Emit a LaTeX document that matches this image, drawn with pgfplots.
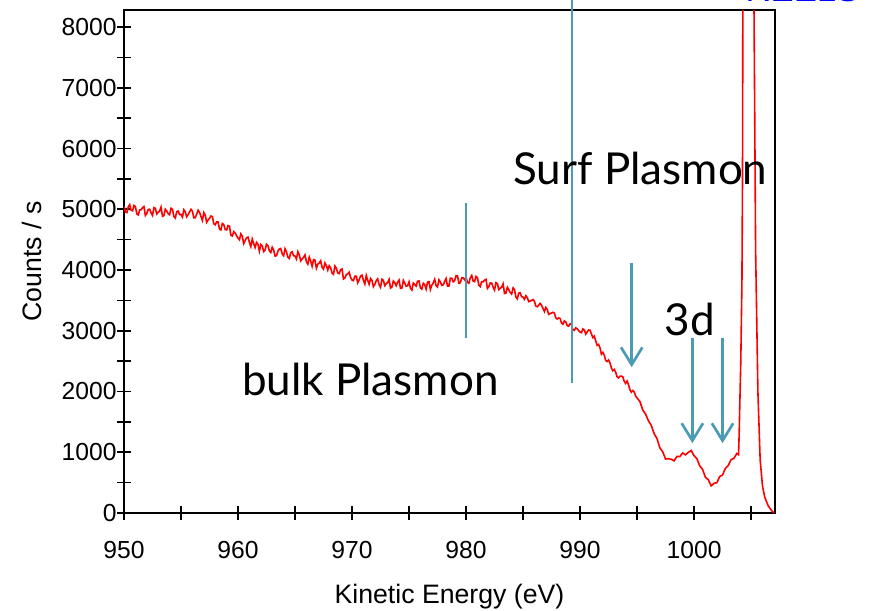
\documentclass[border=0pt]{standalone}
\usepackage{pgfplots}
\pgfplotsset{compat=1.18}
\usepackage{pgfplotstable}
\usepackage{fontspec}
\setmainfont{Liberation Sans}
\newfontfamily\notefont{Lato}
\usetikzlibrary{arrows.meta}
\definecolor{plasmon}{RGB}{75,155,180}

% REELS spectrum near the elastic peak
\pgfplotstableread{
x y
950.000 5050
950.125 4958
950.250 4945
950.375 5038
950.500 5075
950.625 4983
950.750 4975
950.875 5063
951.000 5045
951.125 4923
951.250 4906
951.375 4989
951.500 4992
951.625 5025
951.750 5044
951.875 4897
952.000 4930
952.125 4998
952.250 5001
952.375 4940
952.500 4898
952.625 5026
952.750 5014
952.875 4922
953.000 4950
953.125 4973
953.250 5036
953.375 4884
953.500 4897
953.625 5000
953.750 4969
953.875 4927
954.000 4910
954.125 5017
954.250 4999
954.375 4881
954.500 4857
954.625 4959
954.750 4971
954.875 4913
955.000 4915
955.125 4871
955.250 4992
955.375 4959
955.500 4875
955.625 4911
955.750 4953
955.875 4999
956.000 4970
956.125 4860
956.250 4860
956.375 4920
956.500 4985
956.625 4950
956.750 4880
956.875 4815
957.000 4945
957.125 4903
957.250 4785
957.375 4822
957.500 4850
957.625 4888
957.750 4880
957.875 4762
958.000 4745
958.125 4790
958.250 4790
958.375 4675
958.500 4660
958.625 4765
958.750 4750
958.875 4665
959.000 4660
959.125 4731
959.250 4722
959.375 4573
959.500 4560
959.625 4632
959.750 4608
959.875 4564
960.000 4525
960.125 4498
960.250 4595
960.375 4557
960.500 4435
960.625 4483
960.750 4530
960.875 4542
961.000 4455
961.125 4385
961.250 4510
961.375 4435
961.500 4370
961.625 4455
961.750 4425
961.875 4310
962.000 4420
962.125 4397
962.250 4305
962.375 4328
962.500 4425
962.625 4402
962.750 4315
962.875 4288
963.000 4375
963.125 4330
963.250 4230
963.375 4235
963.500 4310
963.625 4345
963.750 4355
963.875 4265
964.000 4235
964.125 4350
964.250 4300
964.375 4210
964.500 4190
964.625 4285
964.750 4300
964.875 4235
965.000 4230
965.125 4181
965.250 4302
965.375 4249
965.500 4150
965.625 4181
965.750 4208
965.875 4249
966.000 4135
966.125 4096
966.250 4212
966.375 4149
966.500 4060
966.625 4171
966.750 4163
966.875 4029
967.000 4095
967.125 4116
967.250 4152
967.375 4044
967.500 4015
967.625 4116
967.750 4073
967.875 3999
968.000 4070
968.125 4035
968.250 3950
968.375 3930
968.500 4065
968.625 4030
968.750 3950
968.875 3940
969.000 4005
969.125 4016
969.250 3852
969.375 3869
969.500 3925
969.625 3936
969.750 3963
969.875 3879
970.000 3835
970.125 3825
970.250 3900
970.375 3900
970.500 3790
970.625 3840
970.750 3900
970.875 3915
971.000 3830
971.125 3770
971.250 3910
971.375 3830
971.500 3765
971.625 3860
971.750 3830
971.875 3725
972.000 3765
972.125 3823
972.250 3855
972.375 3762
972.500 3715
972.625 3848
972.750 3830
972.875 3742
973.000 3775
973.125 3793
973.250 3845
973.375 3702
973.500 3720
973.625 3818
973.750 3790
973.875 3742
974.000 3800
974.125 3834
974.250 3698
974.375 3701
974.500 3830
974.625 3784
974.750 3732
974.875 3741
975.000 3805
975.125 3700
975.250 3670
975.375 3785
975.500 3760
975.625 3735
975.750 3815
975.875 3820
976.000 3705
976.125 3686
976.250 3782
976.375 3759
976.500 3685
976.625 3801
976.750 3808
976.875 3679
977.000 3750
977.125 3789
977.250 3848
977.375 3742
977.500 3720
977.625 3838
977.750 3802
977.875 3746
978.000 3755
978.125 3810
978.250 3860
978.375 3735
978.500 3735
978.625 3865
978.750 3865
978.875 3805
979.000 3825
979.125 3907
979.250 3905
979.375 3783
979.500 3790
979.625 3872
979.750 3870
979.875 3838
980.000 3890
980.125 3796
980.250 3782
980.375 3873
980.500 3910
980.625 3817
980.750 3808
980.875 3894
981.000 3875
981.125 3749
981.250 3728
981.375 3807
981.500 3805
981.625 3833
981.750 3847
981.875 3696
982.000 3725
982.125 3787
982.250 3785
982.375 3718
982.500 3670
982.625 3792
982.750 3775
982.875 3678
983.000 3700
983.125 3716
983.250 3772
983.375 3614
983.500 3620
983.625 3716
983.750 3678
983.875 3629
984.000 3605
984.125 3705
984.250 3680
984.375 3555
984.500 3525
984.625 3620
984.750 3625
984.875 3560
985.000 3555
985.125 3518
985.250 3577
985.375 3543
985.500 3480
985.625 3489
985.750 3500
985.875 3514
986.000 3484
986.125 3407
986.250 3396
986.375 3421
986.500 3450
986.625 3419
986.750 3366
986.875 3316
987.000 3383
987.125 3349
987.250 3270
987.375 3284
987.500 3291
987.625 3304
987.750 3291
987.875 3212
988.000 3193
988.125 3211
988.250 3203
988.375 3126
988.500 3108
988.625 3162
988.750 3145
988.875 3086
989.000 3074
989.125 3115
989.250 3108
989.375 3017
989.500 3007
989.625 3048
989.750 3032
989.875 3004
990.000 2979
990.125 2968
990.250 3031
990.375 3013
990.500 2945
990.625 2979
990.750 3012
990.875 3010
991.000 2947
991.125 2887
991.250 2912
991.375 2833
991.500 2760
991.625 2775
991.750 2720
991.875 2614
992.000 2644
992.125 2599
992.250 2512
992.375 2494
992.500 2520
992.625 2474
992.750 2390
992.875 2342
993.000 2363
993.125 2318
993.250 2240
993.375 2224
993.500 2251
993.625 2254
993.750 2241
993.875 2169
994.000 2133
994.125 2173
994.250 2113
994.375 2029
994.500 1988
994.625 2016
994.750 1995
994.875 1926
995.000 1894
995.250 1836
995.500 1696
995.750 1629
996.000 1518
996.250 1441
996.500 1306
996.750 1224
997.000 1073
997.250 1009
997.500 889
997.750 894
998.000 884
998.250 859
998.500 931
998.750 928
999.000 989
999.250 957
999.500 999
999.750 1028
1000.000 944
1000.250 895
1000.500 776
1000.750 717
1001.000 586
1001.250 548
1001.500 446
1001.750 489
1002.000 498
1002.250 601
1002.500 625
1002.750 736
1003.000 782
1003.250 878
1003.500 901
1003.750 980
1003.900 960
1003.950 1250
1004.100 2500
1004.200 3800
1004.250 5500
1004.280 8280
1004.350 12000
1005.200 12000
1005.260 8280
1005.400 4330
1005.600 2000
1005.800 870
1006.000 450
1006.200 260
1006.500 120
1006.800 40
1007.000 0
}\spectrum

\begin{document}
\begin{tikzpicture}
\begin{axis}[
  scale only axis,
  width=488.25pt, height=377.25pt,
  xmin=950, xmax=1007.1, ymin=0, ymax=8280,
  xtick={950,960,...,1000},
  minor xtick={955,965,...,1005},
  ytick={0,1000,...,8000},
  minor ytick={500,1500,...,7500},
  tick pos=left,
  tick align=center,
  major tick length=10pt, minor tick length=10pt,
  every tick/.style={black, line width=1.2pt},
  axis line style={black, line width=1.4pt},
  scaled y ticks=false,
  /pgf/number format/assume math mode=true,
  /pgf/number format/1000 sep={},
  ticklabel style={font=\fontsize{18.5}{20}\selectfont},
  x tick label style={yshift=-13pt},
  y tick label style={xshift=3pt},
  label style={font=\fontsize{20}{22}\selectfont},
  xlabel={Kinetic Energy (eV)},
  ylabel={Counts / s},
  xlabel style={at={(axis description cs:0.5,0)}, anchor=center, yshift=-63pt},
  ylabel style={at={([xshift=-69pt]axis description cs:0,0.5)}, anchor=center},
  clip mode=individual,
]
\addplot[red, line width=1.2pt] table[x=x, y=y] {\spectrum};

% plasmon markers
\draw[plasmon, line width=1.4pt] (axis cs:979.97,5108) -- (axis cs:979.97,2880);
\draw[plasmon, line width=1.4pt] (axis cs:989.27,8445) -- (axis cs:989.27,2140);
\draw[plasmon, line width=2pt, -{Straight Barb[length=13pt, width=16pt, line width=2pt]}]
  (axis cs:994.53,4115) -- (axis cs:994.53,2400);
\draw[plasmon, line width=2pt, -{Straight Barb[length=13pt, width=16pt, line width=2pt]}]
  (axis cs:999.85,2880) -- (axis cs:999.85,1150);
\draw[plasmon, line width=2pt, -{Straight Barb[length=13pt, width=16pt, line width=2pt]}]
  (axis cs:1002.5,2880) -- (axis cs:1002.5,1150);

\node[anchor=base, font=\notefont\fontsize{33}{35}\selectfont] at (axis cs:995.3,5400) {Surf Plasmon};
\node[anchor=base, font=\notefont\fontsize{33}{35}\selectfont] at (axis cs:971.6,1940) {bulk Plasmon};
\node[anchor=base, font=\notefont\fontsize{33}{35}\selectfont] at (axis cs:999.65,2915) {3d};
\node[anchor=base west, text=blue, inner sep=0pt, font=\fontsize{26}{28}\selectfont] at (axis cs:1004.5,8412) {REELS};
\end{axis}
\pgfresetboundingbox
\path (-93pt,-73.5pt) rectangle (566.25pt,384.75pt);
\end{tikzpicture}
\end{document}
